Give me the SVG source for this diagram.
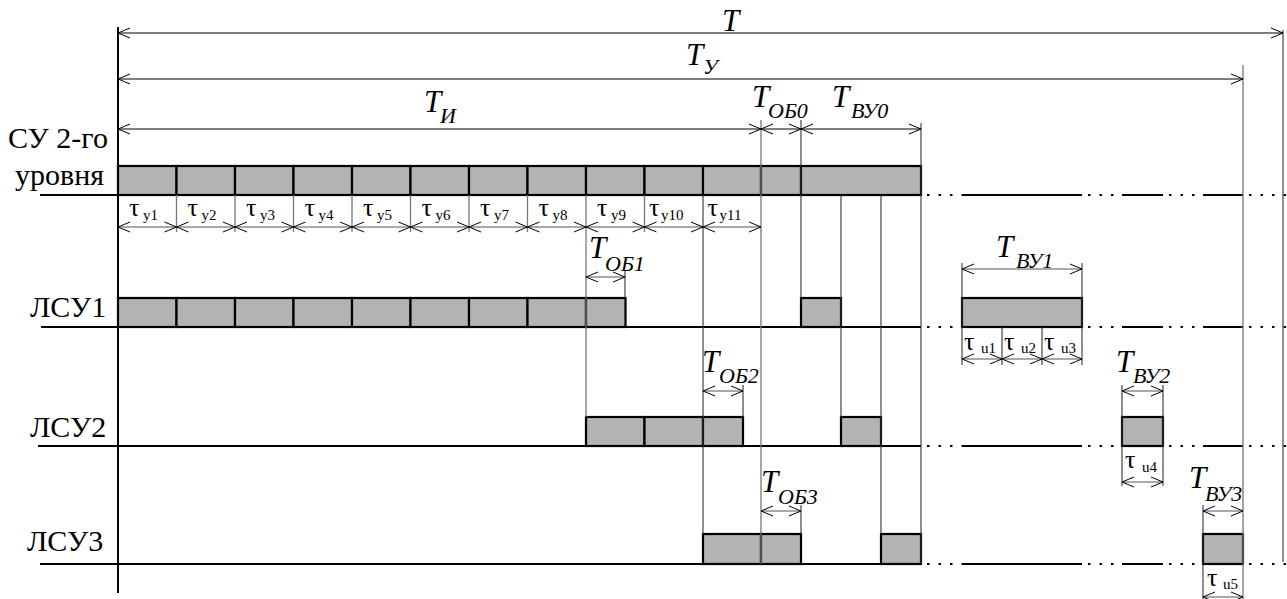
<svg xmlns="http://www.w3.org/2000/svg" width="1287" height="599" viewBox="0 0 1287 599">
<defs>
<marker id="ah" markerUnits="userSpaceOnUse" markerWidth="16" markerHeight="14" viewBox="-13 -7 14 14" refX="0" refY="0" orient="auto-start-reverse">
<path d="M-12,-5 L0,0 L-12,5" fill="none" stroke="#000" stroke-width="1"/>
</marker>
<style>
.box{fill:#b3b3b3;stroke:#000;stroke-width:2.2}
.base{stroke:#000;stroke-width:2.2;fill:none}
.dots{stroke:#000;stroke-width:2;stroke-dasharray:2.5 9;fill:none}
.vl{stroke:#333;stroke-width:1.1;fill:none}
.vg{stroke:#777;stroke-width:1.3;fill:none}
.dim{stroke:#000;stroke-width:1.1;fill:none;marker-start:url(#ah);marker-end:url(#ah)}
.dimg{stroke:#555;stroke-width:1.1;fill:none;marker-start:url(#ah);marker-end:url(#ah)}
.lbl{font-family:"Liberation Serif","Times New Roman",serif;font-size:30px;fill:#000}
.T{font-family:"Liberation Serif","Times New Roman",serif;font-style:italic;font-size:31px;fill:#000}
.sub{font-family:"Liberation Serif","Times New Roman",serif;font-style:italic;font-size:22px;fill:#000}
.tau{font-family:"Liberation Serif","Times New Roman",serif;font-size:26px;fill:#000}
.ts{font-family:"Liberation Serif","Times New Roman",serif;font-size:15px;fill:#000}
</style>
</defs>
<rect width="1287" height="599" fill="#fff"/>

<g id="axis">
<line x1="118" y1="27" x2="118" y2="593" stroke="#000" stroke-width="2"/>
</g>

<g id="row-su">
<text class="lbl" x="8" y="148">СУ 2-го</text>
<text class="lbl" x="15" y="185">уровня</text>
<rect class="box" x="118" y="166" width="58.5" height="29"/>
<rect class="box" x="176.5" y="166" width="58.5" height="29"/>
<rect class="box" x="235" y="166" width="58.5" height="29"/>
<rect class="box" x="293.5" y="166" width="58.5" height="29"/>
<rect class="box" x="352" y="166" width="58.5" height="29"/>
<rect class="box" x="410.5" y="166" width="58.5" height="29"/>
<rect class="box" x="469" y="166" width="58.5" height="29"/>
<rect class="box" x="527.5" y="166" width="58.5" height="29"/>
<rect class="box" x="586" y="166" width="58.5" height="29"/>
<rect class="box" x="644.5" y="166" width="58.5" height="29"/>
<rect class="box" x="703" y="166" width="58" height="29"/>
<rect class="box" x="761" y="166" width="40" height="29"/>
<rect class="box" x="801" y="166" width="120" height="29"/>
<path class="base" d="M40,195 H921"/>
<path class="dots" d="M927,195 H962 M1088,195 H1122 M1169,195 H1203 M1249,195 H1287"/>
<path class="base" d="M962,195 H1082 M1122,195 H1163 M1203,195 H1243"/>
</g>

<g id="row-lsu1">
<text class="lbl" x="30" y="317">ЛСУ1</text>
<rect class="box" x="118" y="298" width="58.5" height="29"/>
<rect class="box" x="176.5" y="298" width="58.5" height="29"/>
<rect class="box" x="235" y="298" width="58.5" height="29"/>
<rect class="box" x="293.5" y="298" width="58.5" height="29"/>
<rect class="box" x="352" y="298" width="58.5" height="29"/>
<rect class="box" x="410.5" y="298" width="58.5" height="29"/>
<rect class="box" x="469" y="298" width="58.5" height="29"/>
<rect class="box" x="527.5" y="298" width="58.5" height="29"/>
<rect class="box" x="586" y="298" width="39.5" height="29"/>
<rect class="box" x="801" y="298" width="40" height="29"/>
<rect class="box" x="962" y="298" width="120" height="29"/>
<path class="base" d="M41,327 H921"/>
<path class="dots" d="M927,327 H962 M1088,327 H1122 M1169,327 H1203 M1249,327 H1287"/>
<path class="base" d="M962,327 H1082 M1122,327 H1163 M1203,327 H1243"/>
</g>

<g id="row-lsu2">
<text class="lbl" x="30" y="437">ЛСУ2</text>
<rect class="box" x="586" y="417" width="58.5" height="29"/>
<rect class="box" x="644.5" y="417" width="58.5" height="29"/>
<rect class="box" x="703" y="417" width="40" height="29"/>
<rect class="box" x="841" y="417" width="40" height="29"/>
<rect class="box" x="1122" y="417" width="41" height="29"/>
<path class="base" d="M38,446 H921"/>
<path class="dots" d="M927,446 H962 M1088,446 H1122 M1169,446 H1203 M1249,446 H1287"/>
<path class="base" d="M962,446 H1082 M1122,446 H1163 M1203,446 H1243"/>
</g>

<g id="row-lsu3">
<text class="lbl" x="27" y="551">ЛСУ3</text>
<rect class="box" x="703" y="534" width="58" height="30"/>
<rect class="box" x="761" y="534" width="40" height="30"/>
<rect class="box" x="881" y="534" width="40" height="30"/>
<rect class="box" x="1203" y="534" width="40" height="30"/>
<path class="base" d="M40,564 H921"/>
<path class="dots" d="M927,564 H962 M1088,564 H1122 M1169,564 H1203 M1249,564 H1287"/>
<path class="base" d="M962,564 H1082 M1122,564 H1163 M1203,564 H1243"/>
</g>

<g id="connectors">
<path class="vl" d="M1283,30 V562"/>
<path class="vg" d="M1243,65 V599"/>
<path class="vl" d="M921,123 V564"/>
<path class="vg" d="M761,120 V564"/>
<path class="vl" d="M801,120 V298 M801,505 V534"/>
<path class="vl" d="M841,195 V417"/>
<path class="vl" d="M881,195 V534"/>
<path class="vg" d="M586,195 V417"/>
<path class="vl" d="M703,195 V534"/>
<path class="vl" d="M625,271 V298"/>
<path class="vl" d="M743,385 V417"/>
<path class="vl" d="M962,263 V365 M1002,327 V365 M1042,327 V365 M1082,263 V365"/>
<path class="vl" d="M1122,385 V486 M1163,385 V486"/>
<path class="vl" d="M1203,505 V599"/>
<path class="vg" d="M176.5,195 V232 M235,195 V232 M293.5,195 V232 M352,195 V232 M410.5,195 V232 M469,195 V232 M527.5,195 V232 M644.5,195 V232"/>
<path class="dim" d="M118,33 H1283"/>
<path class="dim" d="M118,79 H1243"/>
<path class="dim" d="M118,129 H761"/>
<path class="dim" d="M761,129 H801"/>
<path class="dim" d="M801,129 H921"/>
<path class="dimg" d="M118,227 H176.5"/>
<path class="dimg" d="M176.5,227 H235"/>
<path class="dimg" d="M235,227 H293.5"/>
<path class="dimg" d="M293.5,227 H352"/>
<path class="dimg" d="M352,227 H410.5"/>
<path class="dimg" d="M410.5,227 H469"/>
<path class="dimg" d="M469,227 H527.5"/>
<path class="dimg" d="M527.5,227 H586"/>
<path class="dimg" d="M586,227 H644.5"/>
<path class="dimg" d="M644.5,227 H703"/>
<path class="dimg" d="M703,227 H761"/>
<path class="dimg" d="M586,277 H625"/>
<path class="dimg" d="M962,269 H1082"/>
<path class="dimg" d="M962,359 H1002"/>
<path class="dimg" d="M1002,359 H1042"/>
<path class="dimg" d="M1042,359 H1082"/>
<path class="dimg" d="M703,391 H743"/>
<path class="dimg" d="M1122,391 H1163"/>
<path class="dimg" d="M1122,482 H1163"/>
<path class="dimg" d="M761,511 H801"/>
<path class="dimg" d="M1203,511 H1243"/>
<path class="dimg" d="M1203,597 H1243"/>
</g>

<g id="labels">
<text class="T" x="722" y="31">T</text>
<text class="T" x="686" y="65">T</text><text class="sub" x="703" y="74">У</text>
<text class="T" x="424" y="112">T</text><text class="sub" x="440" y="123">И</text>
<text class="T" x="752" y="107">T</text><text class="sub" x="768" y="118">ОБ0</text>
<text class="T" x="832" y="107">T</text><text class="sub" x="851" y="118">ВУ0</text>
<text class="T" x="589" y="258">T</text><text class="sub" x="605" y="271">ОБ1</text>
<text class="T" x="996" y="257">T</text><text class="sub" x="1016" y="268">ВУ1</text>
<text class="T" x="702" y="372">T</text><text class="sub" x="719" y="383">ОБ2</text>
<text class="T" x="1116" y="372">T</text><text class="sub" x="1133" y="383">ВУ2</text>
<text class="T" x="761" y="492">T</text><text class="sub" x="778" y="504">ОБ3</text>
<text class="T" x="1189" y="488">T</text><text class="sub" x="1205" y="501">ВУ3</text>

<text class="tau" x="129" y="216">τ</text><text class="ts" x="143" y="220">у1</text>
<text class="tau" x="187.5" y="216">τ</text><text class="ts" x="201.5" y="220">у2</text>
<text class="tau" x="246" y="216">τ</text><text class="ts" x="260" y="220">у3</text>
<text class="tau" x="304.5" y="216">τ</text><text class="ts" x="318.5" y="220">у4</text>
<text class="tau" x="363" y="216">τ</text><text class="ts" x="377" y="220">у5</text>
<text class="tau" x="421.5" y="216">τ</text><text class="ts" x="435.5" y="220">у6</text>
<text class="tau" x="480" y="216">τ</text><text class="ts" x="494" y="220">у7</text>
<text class="tau" x="538.5" y="216">τ</text><text class="ts" x="552.5" y="220">у8</text>
<text class="tau" x="597" y="216">τ</text><text class="ts" x="611" y="220">у9</text>
<text class="tau" x="649" y="216">τ</text><text class="ts" x="661" y="220">у10</text>
<text class="tau" x="707.5" y="216">τ</text><text class="ts" x="719.5" y="220">у11</text>

<text class="tau" x="964" y="350">τ</text><text class="ts" x="981" y="353">u1</text>
<text class="tau" x="1004" y="350">τ</text><text class="ts" x="1021" y="353">u2</text>
<text class="tau" x="1044" y="350">τ</text><text class="ts" x="1061" y="353">u3</text>
<text class="tau" x="1125" y="468">τ</text><text class="ts" x="1142" y="472">u4</text>
<text class="tau" x="1207" y="586">τ</text><text class="ts" x="1223" y="589">u5</text>
</g>
</svg>
